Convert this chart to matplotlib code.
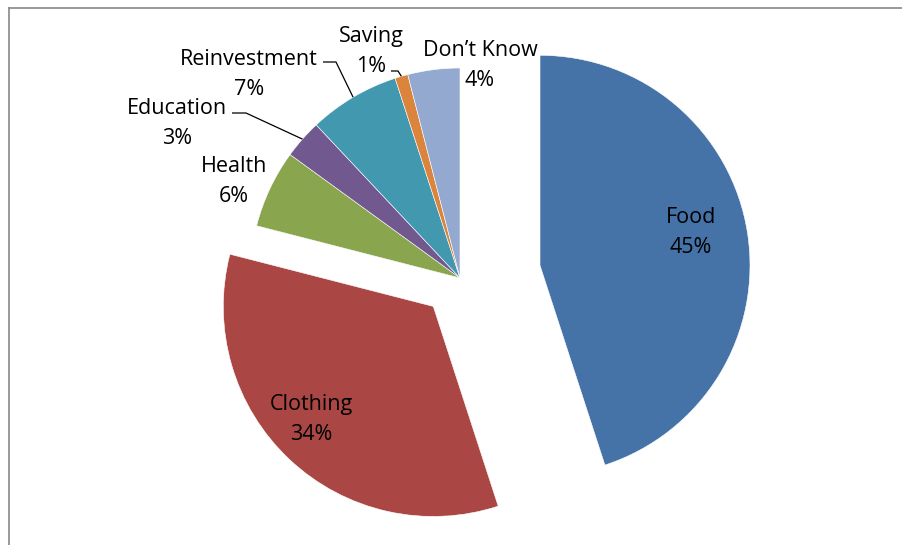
import matplotlib
matplotlib.use("Agg")
import matplotlib.pyplot as plt
import numpy as np

# Spending categories and their shares (%)
categories = ["Food", "Clothing", "Health", "Education", "Reinvestment", "Saving", "Don\u2019t Know"]
shares = [45, 34, 6, 3, 7, 1, 4]
colors = ["#4572A7", "#AA4643", "#89A54E", "#71588F", "#4198AF", "#DB843D", "#93A9CF"]
explode_px = [81, 39, 0, 0, 0, 0, 0]

W, H = 902, 545
fig = plt.figure(figsize=(W / 100, H / 100), dpi=100)
ax = fig.add_axes([0, 0, 1, 1])

cx, cy, R = 460, H - 278, 210

wedges, _ = ax.pie(shares, colors=colors, startangle=90, counterclock=False,
                   radius=R, center=(cx, cy), explode=explode_px,
                   wedgeprops=dict(edgecolor="white", linewidth=0.4))
ax.set_xlim(0, W)
ax.set_ylim(0, H)
ax.set_aspect("equal")
ax.axis("off")

font = dict(family=["Open Sans", "DejaVu Sans"], fontsize=15.5, color="black")

# label placement: (x centre, baseline of name line) in pixels from top-left
label_pos = {
    "Food": (691, 223),
    "Clothing": (311, 410),
    "Health": (234, 172),
    "Education": (177, 114),
    "Reinvestment": (249, 65),
    "Saving": (371, 42),
    "Don\u2019t Know": (480, 56),
}
line_gap = 30
for name, val in zip(categories, shares):
    x, yb = label_pos[name]
    ax.text(x, H - yb, name, ha="center", va="baseline", **font)
    ax.text(x, H - (yb + line_gap), f"{val}%", ha="center", va="baseline", **font)

# leader lines from labels to the small slices
angles = 90 - 360 * (np.cumsum(shares) - np.array(shares) / 2) / 100
leaders = {
    "Education": [(232, 113), (246, 113)],
    "Reinvestment": [(323, 62), (336, 62)],
    "Saving": [(391, 71), (398, 71)],
}
for name, pts in leaders.items():
    i = categories.index(name)
    a = np.deg2rad(angles[i])
    ex, ey = cx + R * np.cos(a), cy + R * np.sin(a)
    xs = [p[0] for p in pts] + [ex]
    ys = [H - p[1] for p in pts] + [ey]
    ax.plot(xs, ys, color="black", lw=0.9, solid_capstyle="butt")

# chart area border (top and left edges visible)
ax.plot([8.5, W + 5], [H - 7.5, H - 7.5], color="#878787", lw=1.2, clip_on=False)
ax.plot([8.5, 8.5], [H - 7.5, -5], color="#878787", lw=1.2, clip_on=False)

fig.savefig("out.png", dpi=100)
